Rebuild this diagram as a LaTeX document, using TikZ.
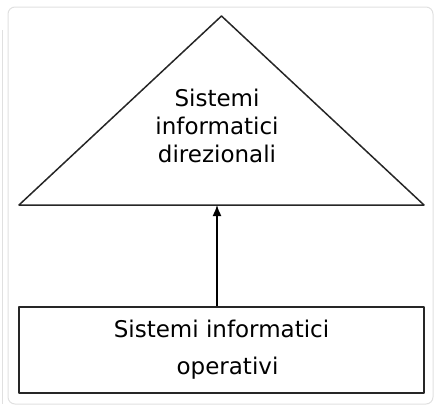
\documentclass[tikz,border=0pt]{standalone}
\usepackage{fontspec}
\setmainfont{DejaVu Sans}
\usetikzlibrary{arrows.meta,positioning,calc}

\begin{document}
\begin{tikzpicture}[x=1pt,y=-1pt,line join=round]
  \useasboundingbox (0,0) rectangle (448,418);
  % card behind the picture
  \draw[black!12,line width=1pt,rounded corners=7pt] (8,7) rectangle (433,404);
  \draw[black!12,line width=1pt] (2,30) -- (2,404);
  \coordinate (T) at (221.5,16);
  \coordinate (L) at (19,205);
  \coordinate (R) at (424,205);
  \draw[line width=1.5pt,black!85] (L)--(T)--(R)--cycle;
  \node[font=\fontsize{23}{28}\selectfont,align=center] (dir) at (217,126) {Sistemi\\informatici\\direzionali};
  \node[draw=black!85,line width=1.5pt,minimum width=405pt,minimum height=86pt,
        font=\fontsize{23}{28}\selectfont,align=center] (ops) at (221.5,350)
        {Sistemi informatici\\[9pt]\hspace{12pt}operativi};
  \coordinate (B) at (217,205);
  \draw[-{Latex[length=11pt,width=9pt]},line width=1.5pt] (ops.north -| B) -- (B);
\end{tikzpicture}
\end{document}
